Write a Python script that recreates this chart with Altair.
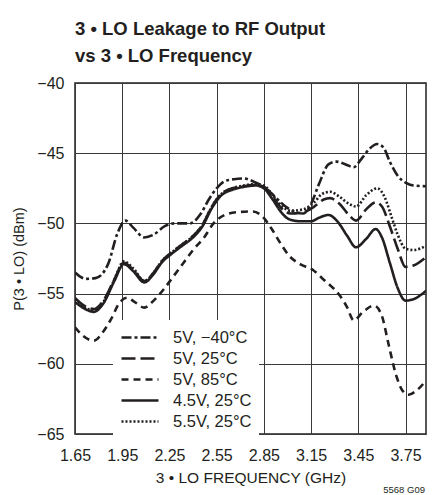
import altair as alt
import pandas as pd

series_names = ["5V, −40°C", "5V, 25°C", "5V, 85°C", "4.5V, 25°C", "5.5V, 25°C"]

x_m40 = [1.65, 1.72, 1.78, 1.86, 1.92, 1.97, 2.02, 2.09, 2.15, 2.22, 2.28, 2.38, 2.45, 2.50, 2.55, 2.60, 2.66, 2.72, 2.80, 2.85, 2.92, 3.00, 3.10, 3.15, 3.20, 3.26, 3.31, 3.37, 3.42, 3.47, 3.52, 3.57, 3.61, 3.65, 3.70, 3.75, 3.80, 3.88]
y_m40 = [-53.5, -53.95, -53.9, -52.9, -50.7, -49.8, -50.3, -51.0, -50.8, -50.2, -50.0, -50.0, -49.3, -48.3, -47.5, -47.0, -46.85, -46.8, -47.1, -47.4, -48.1, -48.9, -49.3, -48.6, -47.2, -45.8, -45.6, -45.8, -46.0, -45.4, -44.7, -44.35, -44.6, -45.6, -46.6, -47.1, -47.3, -47.35]

x_25 = [1.65, 1.70, 1.77, 1.83, 1.90, 1.96, 2.02, 2.09, 2.15, 2.20, 2.26, 2.33, 2.40, 2.46, 2.52, 2.58, 2.65, 2.72, 2.80, 2.85, 2.90, 2.96, 3.02, 3.10, 3.17, 3.23, 3.27, 3.33, 3.39, 3.435, 3.50, 3.56, 3.60, 3.65, 3.70, 3.75, 3.80, 3.88]
y_25 = [-55.3, -55.8, -56.1, -55.5, -54.0, -52.8, -53.3, -54.1, -53.5, -52.7, -52.1, -51.5, -50.9, -50.1, -48.8, -47.9, -47.5, -47.35, -47.25, -47.4, -48.0, -48.9, -49.3, -49.2, -48.8, -48.3, -48.2, -48.6, -49.4, -49.8, -49.0, -48.5, -48.8, -50.2, -51.8, -53.1, -53.0, -52.4]

x_85 = [1.65, 1.70, 1.77, 1.83, 1.88, 1.93, 1.98, 2.03, 2.09, 2.15, 2.22, 2.28, 2.34, 2.40, 2.47, 2.53, 2.60, 2.68, 2.78, 2.84, 2.90, 2.96, 3.01, 3.08, 3.16, 3.22, 3.28, 3.33, 3.38, 3.42, 3.48, 3.55, 3.60, 3.64, 3.69, 3.73, 3.77, 3.82, 3.88]
y_85 = [-57.4, -58.0, -58.35, -57.7, -56.8, -55.7, -55.3, -55.6, -56.0, -55.5, -54.6, -53.7, -52.8, -51.9, -51.0, -50.0, -49.4, -49.2, -49.15, -49.5, -50.4, -51.5, -52.3, -52.9, -53.3, -53.9, -54.5, -55.1, -56.0, -56.9, -56.3, -55.85, -56.6, -58.5, -60.8, -61.9, -62.2, -61.9, -61.2]

x_45 = [1.65, 1.70, 1.77, 1.83, 1.90, 1.96, 2.02, 2.09, 2.15, 2.20, 2.26, 2.33, 2.40, 2.46, 2.52, 2.58, 2.65, 2.72, 2.80, 2.85, 2.90, 2.96, 3.01, 3.08, 3.15, 3.20, 3.26, 3.32, 3.38, 3.435, 3.50, 3.56, 3.60, 3.65, 3.70, 3.75, 3.80, 3.88]
y_45 = [-55.6, -56.0, -56.3, -55.7, -54.1, -52.9, -53.4, -54.2, -53.6, -52.8, -52.2, -51.6, -51.0, -50.2, -48.9, -48.0, -47.6, -47.4, -47.3, -47.5, -48.2, -49.2, -49.7, -49.85, -49.85, -49.6, -49.4, -49.9, -50.9, -51.7, -51.1, -50.4, -51.0, -52.8, -54.6, -55.5, -55.4, -54.8]

x_55 = [1.65, 1.70, 1.77, 1.83, 1.90, 1.96, 2.02, 2.09, 2.15, 2.20, 2.26, 2.33, 2.40, 2.46, 2.52, 2.58, 2.65, 2.72, 2.80, 2.85, 2.90, 2.96, 3.02, 3.10, 3.17, 3.22, 3.27, 3.33, 3.39, 3.435, 3.50, 3.57, 3.62, 3.66, 3.70, 3.75, 3.80, 3.88]
y_55 = [-55.4, -55.9, -56.2, -55.6, -54.0, -52.7, -53.2, -54.1, -53.5, -52.7, -52.1, -51.5, -50.9, -50.1, -48.8, -47.9, -47.5, -47.3, -47.2, -47.3, -47.9, -48.7, -49.1, -49.0, -48.5, -47.9, -47.75, -48.1, -48.6, -48.8, -48.0, -47.5, -48.2, -49.5, -50.8, -51.8, -51.9, -51.6]

x_ticks = [1.65, 1.95, 2.25, 2.55, 2.85, 3.15, 3.45, 3.75]
y_ticks = [-40, -45, -50, -55, -60, -65]

rows = []
for name, xs, ys in zip(series_names, [x_m40, x_25, x_85, x_45, x_55], [y_m40, y_25, y_85, y_45, y_55]):
    for xv, yv in zip(xs, ys):
        rows.append({"f": xv, "p": yv, "s": name})
df = pd.DataFrame(rows)

INK = "#231f20"
FONT = "Liberation Sans, Arial, sans-serif"
W, H = 351, 351

lines = alt.Chart(df).mark_line(interpolate="monotone", strokeWidth=2.6, color=INK, clip=True).encode(
    x=alt.X("f:Q", scale=alt.Scale(domain=[1.65, 3.88], nice=False, zero=False),
            axis=alt.Axis(values=x_ticks, format=".2f", title="3 • LO FREQUENCY (GHz)",
                          grid=True, ticks=False, domain=False, labelPadding=13,
                          titlePadding=7, labelFlush=False, titleFontSize=15.5)),
    y=alt.Y("p:Q", scale=alt.Scale(domain=[-65, -40], nice=False, zero=False),
            axis=alt.Axis(values=y_ticks, format="d", title="P(3 • LO) (dBm)",
                          grid=True, ticks=False, domain=False, labelPadding=11,
                          titlePadding=10, titleFontSize=14.5)),
    strokeDash=alt.StrokeDash("s:N", scale=alt.Scale(domain=series_names,
                              range=[[10, 3, 3, 3], [14, 5], [7, 5], [1, 0], [2, 2]]),
                              legend=alt.Legend(title=None, orient="none", legendX=38, legendY=237,
                                                fillColor="white", padding=7,
                                                symbolType="stroke", symbolSize=1369,
                                                symbolStrokeWidth=2.6, symbolStrokeColor=INK,
                                                clipHeight=21, rowPadding=0, labelOffset=13,
                                                labelFont=FONT, labelFontSize=16.5, labelColor=INK)),
)

note_df = pd.DataFrame({"t": ["5568 G09"]})
note = alt.Chart(note_df).mark_text(align="right", baseline="alphabetic", font=FONT,
                                     fontSize=9.5, color=INK).encode(
    text="t:N", x=alt.value(W - 1), y=alt.value(H + 59))

chart = alt.layer(lines, note).properties(
    width=W, height=H,
    autosize=alt.AutoSizeParams(type="none"),
    padding={"left": 67, "top": 75, "right": 11, "bottom": 63},
    title=alt.TitleParams(["3 • LO Leakage to RF Output", "vs 3 • LO Frequency"],
                          anchor="start", frame="group", font=FONT, fontSize=18.5,
                          fontWeight="bold", color=INK, lineHeight=27, offset=10),
).configure_view(stroke=INK, strokeWidth=1.5).configure_axis(
    gridColor="#3a3a3a", gridWidth=1, gridOpacity=1,
    labelFont=FONT, labelFontSize=16, labelColor=INK,
    titleFont=FONT, titleColor=INK, titleFontWeight="normal",
)

chart.save("out.html", embed_options={"renderer": "svg", "actions": False})
